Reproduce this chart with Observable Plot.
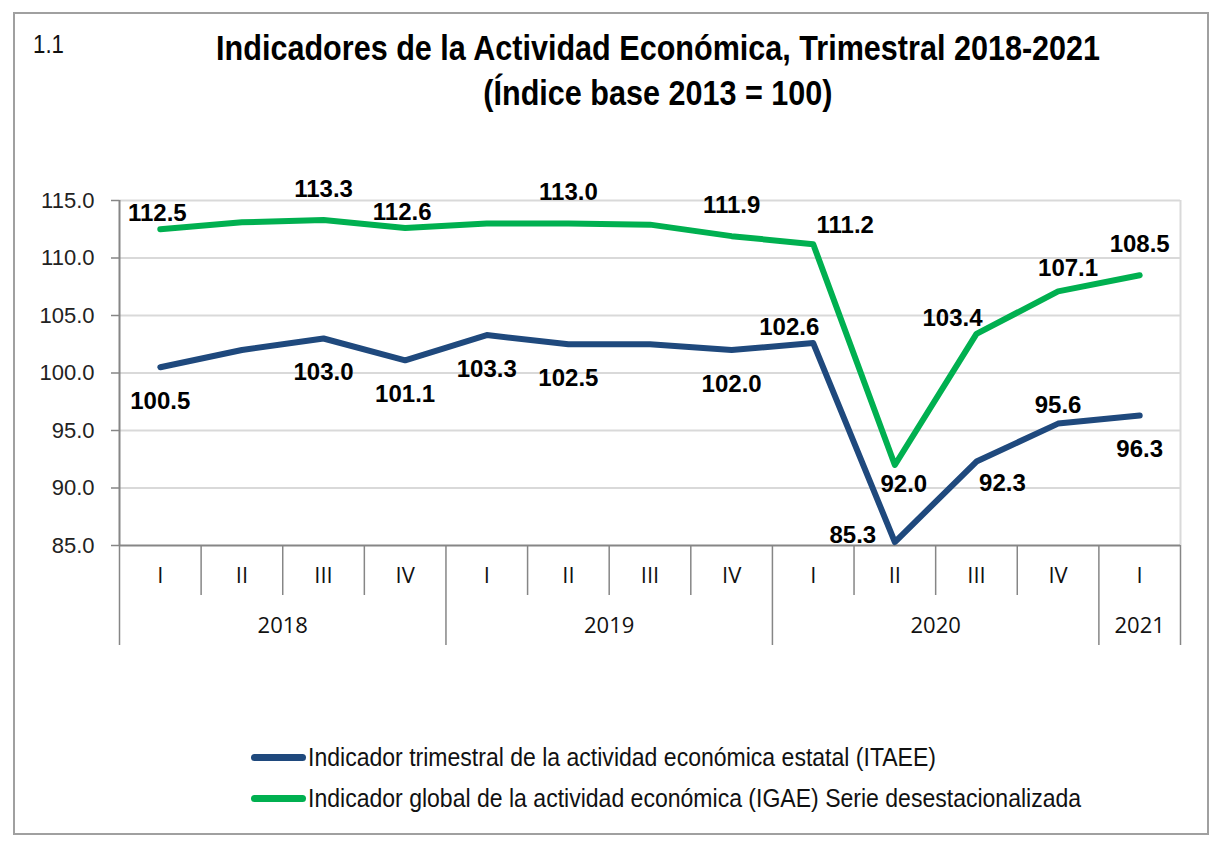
<!DOCTYPE html>
<html>
<head>
<meta charset="utf-8">
<script src="https://cdn.jsdelivr.net/npm/d3@7"></script>
<script src="https://cdn.jsdelivr.net/npm/@observablehq/plot@0.6"></script>
<style>
  html, body { margin: 0; padding: 0; background: #fff; }
  #page { position: relative; width: 1218px; height: 845px; overflow: hidden; background: #fff; }
  #frame { position: absolute; left: 13px; top: 12px; width: 1196px; height: 823px; border: 2px solid #a0a0a0; box-sizing: border-box; }
  .nar { font-family: "Liberation Sans", Arial, sans-serif; display: inline-block; white-space: nowrap; }
  #num { position: absolute; left: 33px; top: 29px; font-size: 26px; color: #111; transform-origin: left center; }
  .tl { position: absolute; left: 0; width: 1316px; text-align: center; }
  .tl span { font-size: 35px; line-height: 45px; font-weight: bold; color: #000; transform-origin: center center; }
  #chart { position: absolute; left: 0; top: 0; }
  #legend { position: absolute; left: 251px; top: 737px; color: #111; }
  .row { display: flex; align-items: center; height: 41px; }
  .sw { width: 55px; height: 7px; border-radius: 4px; margin-right: 2px; flex: none; }
  .row .nar { font-size: 25px; transform-origin: left center; }
</style>
</head>
<body>
<div id="page">
  <div id="frame"></div>
  <span id="num" class="nar">1.1</span>
  <div class="tl" style="top:25px"><span class="nar" id="t1">Indicadores de la Actividad Económica, Trimestral 2018-2021</span></div>
  <div class="tl" style="top:70px"><span class="nar" id="t2">(Índice base 2013 = 100)</span></div>
  <div id="chart"></div>
  <div id="legend"></div>
</div>
<script>
// ---- data ----
const quarters = ["I","II","III","IV","I","II","III","IV","I","II","III","IV","I"];
const years    = ["2018","2018","2018","2018","2019","2019","2019","2019","2020","2020","2020","2020","2021"];
const itaee = [100.5, 102.0, 103.0, 101.1, 103.3, 102.5, 102.5, 102.0, 102.6, 85.3, 92.3, 95.6, 96.3];
const igae  = [112.5, 113.1, 113.3, 112.6, 113.0, 113.0, 112.9, 111.9, 111.2, 92.0, 103.4, 107.1, 108.5];
const itaeeShown = [true,false,true,true,true,true,false,true,true,true,true,true,true];
const igaeShown  = [true,false,true,true,false,true,false,true,true,true,true,true,true];
const yTicks = [85, 90, 95, 100, 105, 110, 115];
const seriesNames = [
  "Indicador trimestral de la actividad económica estatal (ITAEE)",
  "Indicador global de la actividad económica (IGAE) Serie desestacionalizada"
];

// ---- label placement (style) ----
const itaeePlace = ["bottom",null,"bottom","bottom","bottom","bottom",null,"bottom","topLeft","left","bottomRightFar","topMid","bottom"];
const igaePlace  = ["topNear",null,"top","topNear",null,"top",null,"top","topRight","bottomRight","topLeft","topRightNear","top"];
const offsets = {
  top: [0,-31], topNear: [-3,-16], topLeft: [-24,-16], topRight: [32,-19], topRightNear: [10,-23],
  topMid: [0,-18], bottom: [0,34], bottomRight: [9,19], bottomRightFar: [26,22], left: [-42,-7]
};
const colors = ["#1f497d", "#00b050"];
const FONT = "Liberation Sans, Arial, sans-serif";

const rows = [];
itaee.forEach((v,i) => rows.push({s:0, i, v, show: itaeeShown[i], place: itaeePlace[i]}));
igae.forEach((v,i) => rows.push({s:1, i, v, show: igaeShown[i], place: igaePlace[i]}));

const yearGroups = [];
years.forEach((y,i) => {
  const last = yearGroups[yearGroups.length-1];
  if (last && last.year === y) last.end = i+1; else yearGroups.push({year:y, start:i, end:i+1});
});
const yearEdges = [0, ...yearGroups.map(g => g.end)];
const qEdges = d3.range(1, quarters.length);

const labelMarks = Object.entries(offsets).map(([code,[dx,dy]]) =>
  Plot.text(rows.filter(r => r.show && r.place === code), {
    x: r => r.i + 0.5, y: "v", text: r => r.v.toFixed(1), dx, dy,
    fontSize: 24, fontWeight: "bold", fontFamily: FONT, fill: "#000"
  })
);

const W = 1218, H = 845, mT = 200, mB = 300, mL = 119, mR = 38;
const frameH = H - mT - mB, frameW = W - mL - mR;

const chart = Plot.plot({
  width: W, height: H,
  marginTop: mT, marginBottom: mB, marginLeft: mL, marginRight: mR,
  style: { fontFamily: FONT, background: "transparent", overflow: "visible" },
  x: { domain: [0, quarters.length], axis: null },
  y: { domain: [85, 115], axis: null },
  marks: [
    Plot.ruleY(yTicks.filter(t => t > 85), { stroke: "#d9d9d9", strokeWidth: 2 }),
    Plot.ruleX([quarters.length], { stroke: "#d9d9d9", strokeWidth: 2 }),
    // y tick marks and labels
    Plot.ruleY(yTicks, { stroke: "#868686", strokeWidth: 1.5, insetLeft: -8, insetRight: frameW }),
    Plot.text(yTicks, { y: d => d, text: d => d.toFixed(1), frameAnchor: "left", textAnchor: "end", dx: -25,
      fontSize: 22, fill: "#222", fontFamily: FONT }),
    // category axis separators
    Plot.ruleX(qEdges.filter(e => !yearEdges.includes(e)), { stroke: "#868686", strokeWidth: 1.5, insetTop: frameH, insetBottom: -50 }),
    Plot.ruleX(yearEdges, { stroke: "#868686", strokeWidth: 1.5, insetTop: frameH, insetBottom: -100 }),
    Plot.text(quarters, { x: (d,i) => i + 0.5, text: d => d, frameAnchor: "bottom", dy: 37,
      fontSize: 22, fill: "#111", fontFamily: "Open Sans, sans-serif" }),
    Plot.text(yearGroups, { x: g => (g.start + g.end) / 2, text: "year", frameAnchor: "bottom", dy: 87,
      fontSize: 22, fill: "#111", fontFamily: "Open Sans, sans-serif" }),
    Plot.ruleX([0], { stroke: "#868686", strokeWidth: 2 }),
    Plot.ruleY([85], { stroke: "#868686", strokeWidth: 2 }),
    Plot.line(rows, { x: r => r.i + 0.5, y: "v", z: "s", stroke: r => colors[r.s], strokeWidth: 6,
      strokeLinecap: "round", strokeLinejoin: "round" }),
    ...labelMarks
  ]
});
document.getElementById("chart").appendChild(chart);

const legend = document.getElementById("legend");
const legendTexts = [];
seriesNames.forEach((name, k) => {
  const row = document.createElement("div");
  row.className = "row";
  const sw = document.createElement("span");
  sw.className = "sw"; sw.style.background = colors[k];
  const t = document.createElement("span");
  t.className = "nar";
  t.textContent = name;
  row.appendChild(sw); row.appendChild(t);
  legend.appendChild(row);
  legendTexts.push(t);
});

// condense text to mimic a narrow typeface
function squeeze(el, target) {
  const w = el.getBoundingClientRect().width;
  const s = target / w;
  el.style.transform = `scaleX(${s})`;
  return s;
}
const s1 = squeeze(document.getElementById("t1"), 884);
document.getElementById("t2").style.transform = `scaleX(${s1})`;
squeeze(document.getElementById("num"), 31);
const sl = squeeze(legendTexts[0], 628);
legendTexts[1].style.transform = `scaleX(${sl})`;
</script>
</body>
</html>
